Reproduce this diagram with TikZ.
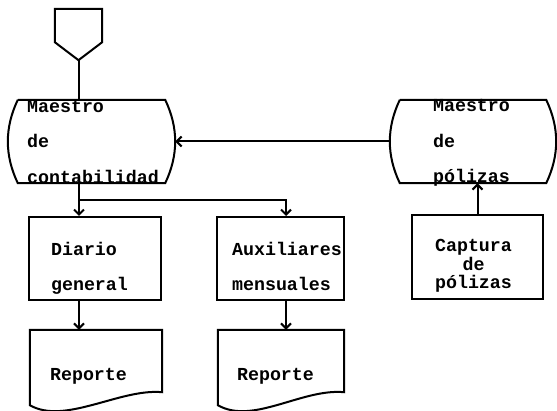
\documentclass[tikz,border=0pt]{standalone}
\usepackage{fontspec}
\setmainfont{Liberation Mono}
\usepackage{tikz}
\usetikzlibrary{positioning,calc,arrows.meta}

\begin{document}
\begin{tikzpicture}[x=1pt,y=-1pt,
    line/.style={line width=2pt},
    arr/.style={line width=2pt,-{Straight Barb[length=5pt,width=10pt]}},
    blank/.style={inner sep=0pt,minimum width=#1},
    proc/.style={draw,line width=2pt,inner sep=0pt,minimum height=83},
    txt/.style={align=left,inner sep=0pt,font=\bfseries\fontsize{18.3}{35.5}\selectfont}]
    \useasboundingbox (0,0) rectangle (557,411);

    % Conector de entrada
    \node[blank=47,minimum height=51] (offp) at (78.5,34.5) {};
    \draw[line] (offp.north west) -- (offp.north east) -- ([yshift=18pt]offp.south east)
        -- (offp.south) -- ([yshift=18pt]offp.south west) -- cycle;

    % Maestros
    \node[blank=167,minimum height=83,label={[txt,xshift=1.5pt]center:{Maestro\\de\\contabilidad}}] (mcont) at (91.5,141.5) {};
    \node[blank=166,minimum height=83,label={[txt,xshift=-1.5pt,yshift=-1.5pt]center:{Maestro\\de\\pólizas}}] (mpol) at (473,141.5) {};
    \foreach \n in {mcont,mpol} {
        \draw[line] ([xshift=10pt]\n.north west) -- ([xshift=-10pt]\n.north east)
            .. controls +(13.3,28) and +(13.3,-28) .. ([xshift=-10pt]\n.south east)
            -- ([xshift=10pt]\n.south west)
            .. controls +(-13.3,-28) and +(-13.3,28) .. ([xshift=10pt]\n.north west);
    }

    % Procesos
    \node[proc,minimum width=132,label={[txt,xshift=-5.5pt,yshift=-10pt]center:{Diario\\general}}] (diario) at (95,258.5) {};
    \node[proc,minimum width=127,label={[txt,xshift=6.5pt,yshift=-8pt]center:{Auxiliares\\mensuales}}] (auxil) at (280.5,258.5) {};
    \node[proc,minimum width=131,minimum height=84,label={[txt,align=center,font=\bfseries\fontsize{18.3}{18.5}\selectfont,xshift=-4pt,yshift=-9pt]center:{Captura\\de\\pólizas}}] (capt) at (477.5,257) {};

    % Reportes
    \node[blank=132,minimum height=69,label={[txt,xshift=-7.5pt,yshift=-11.5pt]center:Reporte}] (rep1) at (96,364.5) {};
    \node[blank=126,minimum height=69,label={[txt,xshift=-5.5pt,yshift=-11.5pt]center:Reporte}] (rep2) at (281,364.5) {};
    \foreach \n in {rep1,rep2} {
        \draw[line] ([yshift=-6pt]\n.south west) -- (\n.north west) -- (\n.north east) -- ([yshift=7pt]\n.south east)
            .. controls +(-42,-4) and +(35,20) .. ([yshift=-6pt]\n.south west) -- cycle;
    }

    % Flujo
    \coordinate (split) at (79,200);
    \coordinate (split2) at (286,200);
    \draw[line] (offp.south) -- (offp.south |- mcont.north);
    \draw[arr] (mpol.west) -- (mcont.east);
    \draw[line] (split |- mcont.south) -- (split);
    \draw[arr] (split) -- (split |- diario.north);
    \draw[arr] (split) -- (split2) -- (split2 |- auxil.north);
    \draw[arr] (split |- diario.south) -- (split |- rep1.north);
    \draw[arr] (split2 |- auxil.south) -- (split2 |- rep2.north);
    \draw[arr] (capt.north) -- (capt.north |- mpol.south);
\end{tikzpicture}
\end{document}
